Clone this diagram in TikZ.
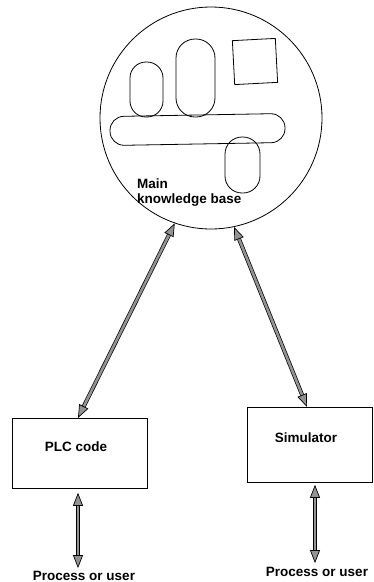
\documentclass[tikz,border=0pt]{standalone}
\usepackage{fontspec}
\setmainfont{Liberation Sans}
\usetikzlibrary{arrows.meta, positioning}

\begin{document}
\begin{tikzpicture}[
    x=1pt, y=-1pt,
    kbase/.style={
        circle,
        draw=black,
        line width=0.8pt,
        minimum size=222pt,
        inner sep=0pt
    },
    pill/.style={
        rectangle,
        draw=black,
        line width=0.8pt,
        inner sep=0pt
    },
    box/.style={
        rectangle,
        draw=black,
        line width=0.8pt,
        inner sep=0pt,
        anchor=north west
    },
    txt/.style={
        font=\fontsize{13.5}{15}\selectfont\bfseries,
        align=left,
        inner sep=0pt
    },
    link/.style={
        draw=black,
        line width=0.7pt,
        double=gray!85,
        double distance=2.6pt,
        {Triangle[length=13pt,width=10pt,fill=gray!85]}-{Triangle[length=13pt,width=10pt,fill=gray!85]}
    }
]
    \useasboundingbox (0,0) rectangle (374,582);

    % knowledge base and its parts
    \node[kbase] (kb) at (211,118) {};
    \node[pill, minimum width=33pt, minimum height=55pt, rounded corners=16pt] (partA) at (146.5,89.5) {};
    \node[pill, minimum width=39pt, minimum height=78pt, rounded corners=19pt] (partB) at (195.5,78) {};
    \node[pill, minimum width=43pt, minimum height=44pt, rotate=3] (partC) at (255,61.5) {};
    \node[pill, minimum width=175pt, minimum height=29pt, rounded corners=14pt, rotate=1] (partD) at (197.5,129.5) {};
    \node[pill, minimum width=35pt, minimum height=56pt, rounded corners=17pt] (partE) at (242.5,165) {};
    \node[txt, anchor=north west] (kbtext) at (137,179) {Main\\knowledge base};

    % BOTTOM ROW
    \node[box, minimum width=135pt, minimum height=70pt] (plc) at (12,418) {};
    \node[txt] (plctext) at (76,447) {PLC code};
    \node[box, minimum width=125pt, minimum height=75pt] (sim) at (247,407) {};
    \node[txt] (simtext) at (306,438) {Simulator};

    \node[txt] (plcuser) at (84,576) {Process or user};
    \node[txt] (simuser) at (317,572) {Process or user};

    % links
    \draw[link] (kb.251) -- (plc.north -| 78,0);
    \draw[link] (kb.282) -- (sim.north -| 307,0);
    \draw[link, shorten <=4pt, shorten >=3pt] (plc.south -| 78,0) -- (plcuser.north -| 78,0);
    \draw[link, shorten <=2pt, shorten >=4pt] (sim.south -| 315,0) -- (simuser.north -| 315,0);
\end{tikzpicture}
\end{document}
